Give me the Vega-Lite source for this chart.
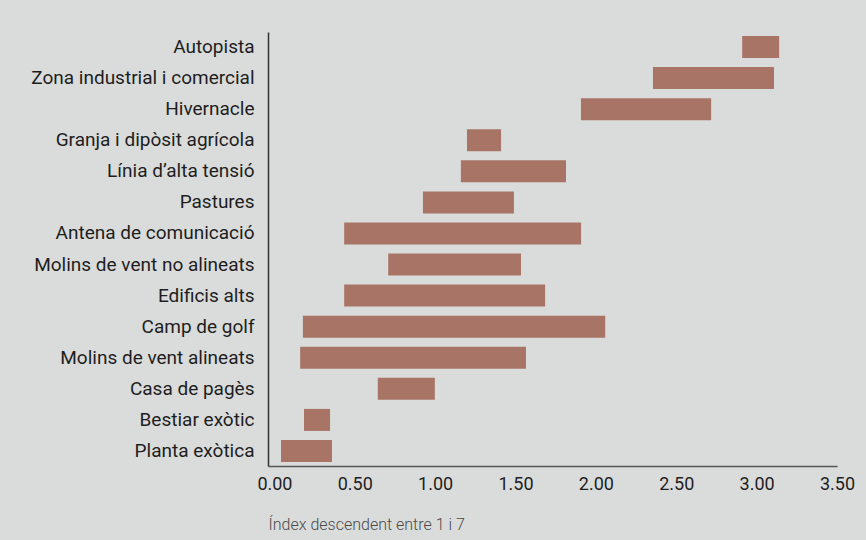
{
  "$schema": "https://vega.github.io/schema/vega-lite/v6.json",
  "autosize": {"type": "none"},
  "width": 569,
  "height": 434,
  "padding": {"left": 268, "top": 32, "right": 29, "bottom": 74},
  "background": "#dadcdb",
  "view": {"stroke": null},
  "config": {
    "font": "Roboto",
    "axis": {"labelFont": "Roboto", "titleFont": "Roboto"}
  },
  "data": {
    "values": [
      {"categoria": "Autopista", "inici": 2.91, "fi": 3.14},
      {"categoria": "Zona industrial i comercial", "inici": 2.355, "fi": 3.108},
      {"categoria": "Hivernacle", "inici": 1.907, "fi": 2.717},
      {"categoria": "Granja i dipòsit agrícola", "inici": 1.198, "fi": 1.41},
      {"categoria": "Línia d’alta tensió", "inici": 1.16, "fi": 1.814},
      {"categoria": "Pastures", "inici": 0.924, "fi": 1.49},
      {"categoria": "Antena de comunicació", "inici": 0.434, "fi": 1.908},
      {"categoria": "Molins de vent no alineats", "inici": 0.708, "fi": 1.534},
      {"categoria": "Edificis alts", "inici": 0.434, "fi": 1.684},
      {"categoria": "Camp de golf", "inici": 0.177, "fi": 2.058},
      {"categoria": "Molins de vent alineats", "inici": 0.16, "fi": 1.565},
      {"categoria": "Casa de pagès", "inici": 0.643, "fi": 0.998},
      {"categoria": "Bestiar exòtic", "inici": 0.184, "fi": 0.346},
      {"categoria": "Planta exòtica", "inici": 0.041, "fi": 0.358}
    ]
  },
  "mark": {"type": "bar", "color": "#a87466", "cornerRadius": 0},
  "encoding": {
    "y": {
      "field": "categoria",
      "type": "nominal",
      "sort": null,
      "scale": {"paddingInner": 0.292, "paddingOuter": 0.129},
      "axis": {
        "title": null,
        "ticks": false,
        "labelFontSize": 19,
        "labelColor": "#1e1e1e",
        "labelPadding": 14,
        "labelLimit": 400,
        "domainColor": "#333333",
        "domainWidth": 1.5
      }
    },
    "x": {
      "field": "inici",
      "type": "quantitative",
      "scale": {"domain": [-0.04, 3.5], "nice": false, "zero": false},
      "axis": {
        "title": "Índex descendent entre 1 i 7",
        "titleFontSize": 16,
        "titleFontWeight": 300,
        "titleColor": "#4a4a4a",
        "titleAnchor": "start",
        "titleAlign": "left",
        "titlePadding": 23,
        "values": [0, 0.5, 1, 1.5, 2, 2.5, 3, 3.5],
        "format": ".2f",
        "grid": false,
        "ticks": false,
        "labelFontSize": 18,
        "labelColor": "#1e1e1e",
        "labelPadding": 9,
        "labelFlush": false,
        "domainColor": "#555555",
        "domainWidth": 1.5
      }
    },
    "x2": {"field": "fi"}
  }
}
